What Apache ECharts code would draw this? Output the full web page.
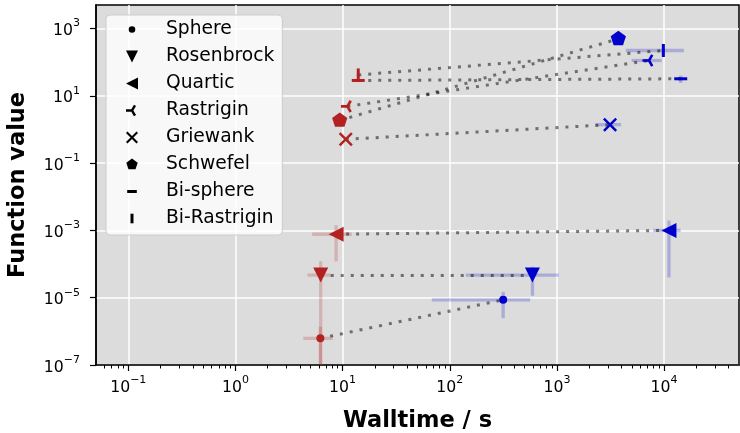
<!DOCTYPE html>
<html>
<head>
<meta charset="utf-8">
<script src="https://cdn.jsdelivr.net/npm/echarts@6/dist/echarts.min.js"></script>
<style>
    html, body { margin: 0; padding: 0; background: #ffffff; }
    #chart { width: 740px; height: 433px; }
</style>
</head>
<body>
<div id="chart"></div>
<script>
// benchmark functions, one marker each
const functionNames = ["Sphere", "Rosenbrock", "Quartic", "Rastrigin", "Griewank", "Schwefel", "Bi-sphere", "Bi-Rastrigin"];

// red points (fast run)
const redTime = [6.2, 6.25, 8.7, 11.1, 10.7, 9.4, 14.0, 14.0];
const redValue = [6.2e-7, 4.7e-5, 7.7e-4, 4.85, 0.51, 1.86, 28.6, 41.7];
const redTimeErr = [1.9, 1.55, 3.5, 0.4, 0.4, 0.5, 0.5, 0.5];
const redValueErr = [7.5e-7, 7.5e-5, 6.5e-4, 0.3, 0.03, 0.1, 1.5, 2];

// blue points (slow run)
const blueTime = [315, 591, 11100, 7230, 3130, 3740, 14290, 9840];
const blueValue = [8.66e-6, 4.69e-5, 1.0e-3, 112, 1.39, 494, 32.1, 222];
const blueTimeErr = [247, 450, 3170, 2250, 840, 300, 800, 5450];
const blueValueErr = [6.2e-6, 3.55e-5, 9.6e-4, 10, 0.1, 30, 8, 60];

// axis ticks
const xMajorTicks = [0.1, 1, 10, 100, 1000, 10000];
const yMajorTicks = [1e-7, 1e-5, 1e-3, 1e-1, 10, 1000];

const RED = "#b22222";
const BLUE = "#0000cd";
const RED_ERR = "rgba(178, 34, 34, 0.22)";
const BLUE_ERR = "rgba(0, 0, 205, 0.22)";
const FONT = "DejaVu Sans";

// marker shapes (matplotlib-like), all centred on (0,0)
const DOWN_TRI = "path://M-10,-10 L10,-10 L0,10 Z";
const LEFT_TRI = "path://M-10,0 L10,-10 L10,10 Z";
const TRI_LEFT = "path://M-10,-10 M10,10 M-10,-2 L-1.155,-2 L3.268,-9.66 L6.732,-7.66 L2.31,0 L6.732,7.66 L3.268,9.66 L-1.155,2 L-10,2 Z";
const CROSS = "path://M-8.586,-11.414 L11.414,8.586 L8.586,11.414 L-11.414,-8.586 Z M-11.414,8.586 L8.586,-11.414 L11.414,-8.586 L-8.586,11.414 Z";
const PENTAGON = "path://M-10,-10 M10,10 M0,-10 L9.51,-3.09 L5.88,8.09 L-5.88,8.09 L-9.51,-3.09 Z";
const DOT_ICON = "path://M-10,-10 M10,10 M-5.5,0 A5.5,5.5 0 1,1 5.5,0 A5.5,5.5 0 1,1 -5.5,0 Z";
const HBAR_ICON = "path://M-10,-10 M10,10 M-8,-2.5 L8,-2.5 L8,2.5 L-8,2.5 Z";
const VBAR_ICON = "path://M-10,-10 M10,10 M-2.5,-8 L2.5,-8 L2.5,8 L-2.5,8 Z";

const markerSymbols = ["circle", DOWN_TRI, LEFT_TRI, TRI_LEFT, CROSS, PENTAGON, "rect", "rect"];
const markerSizes = [8, 15, 15, 13, 14, 16, [13, 3], [3, 13]];
const legendIcons = [DOT_ICON, DOWN_TRI, LEFT_TRI, TRI_LEFT, CROSS, PENTAGON, HBAR_ICON, VBAR_ICON];

const minorTicks = [];
for (let e = -2; e <= 4; e++) {
    for (let m = 2; m <= 9; m++) {
        const v = m * Math.pow(10, e);
        if (v > 0.05 && v < 50000) minorTicks.push(v);
    }
}

function powerLabel(value) {
    const exp = Math.round(Math.log10(value));
    return "{b|10}{s|" + String(exp).replace("-", "\u2212") + "}";
}

const labelRich = {
    b: { fontFamily: FONT, fontSize: 15.7, color: "#000", lineHeight: 21, verticalAlign: "bottom" },
    s: { fontFamily: FONT, fontSize: 11, color: "#000", lineHeight: 12, verticalAlign: "top" },
};

// error bars: [x, y, xerr, yerr, colour index]
const errorData = [];
functionNames.forEach((name, i) => {
    errorData.push([redTime[i], redValue[i], redTimeErr[i], redValueErr[i], 0]);
    errorData.push([blueTime[i], blueValue[i], blueTimeErr[i], blueValueErr[i], 1]);
});

function renderErrorBar(params, api) {
    const x = api.value(0);
    const y = api.value(1);
    const dx = api.value(2);
    const dy = api.value(3);
    const style = {
        stroke: api.value(4) === 0 ? RED_ERR : BLUE_ERR,
        lineWidth: 3.3,
        fill: null,
    };
    const left = api.coord([Math.max(x - dx, 1e-9), y]);
    const right = api.coord([x + dx, y]);
    const top = api.coord([x, y + dy]);
    const bottom = api.coord([x, Math.max(y - dy, 1e-15)]);
    return {
        type: "group",
        children: [
            { type: "line", shape: { x1: left[0], y1: left[1], x2: right[0], y2: right[1] }, style },
            { type: "line", shape: { x1: top[0], y1: top[1], x2: bottom[0], y2: bottom[1] }, style },
        ],
    };
}

const series = [
    {
        type: "custom",
        name: "errors",
        renderItem: renderErrorBar,
        data: errorData,
        encode: { x: 0, y: 1 },
        clip: true,
        silent: true,
        z: 2,
    },
    {
        type: "lines",
        name: "links",
        coordinateSystem: "cartesian2d",
        data: functionNames.map((name, i) => ({
            coords: [[redTime[i], redValue[i]], [blueTime[i], blueValue[i]]],
        })),
        lineStyle: { color: "rgba(0,0,0,0.5)", width: 3, type: [3, 7], cap: "butt", opacity: 1 },
        silent: true,
        z: 3,
    },
];

functionNames.forEach((name, i) => {
    series.push({
        type: "scatter",
        name,
        symbol: markerSymbols[i],
        symbolSize: markerSizes[i],
        itemStyle: { color: "#000", opacity: 1 },
        data: [
            { value: [redTime[i], redValue[i]], itemStyle: { color: RED } },
            { value: [blueTime[i], blueValue[i]], itemStyle: { color: BLUE } },
        ],
        z: 4,
    });
});

const chart = echarts.init(document.getElementById("chart"), null, { renderer: "canvas" });

chart.setOption({
    animation: false,
    backgroundColor: "#ffffff",
    grid: {
        left: 96,
        right: 1,
        top: 5,
        bottom: 68,
        outerBoundsMode: "none",
        containLabel: false,
        show: true,
        backgroundColor: "#dcdcdc",
        borderColor: "#000",
        borderWidth: 1.5,
    },
    legend: {
        orient: "vertical",
        left: 106,
        top: 15,
        data: functionNames.map((name, i) => ({ name, icon: legendIcons[i] })),
        itemWidth: 12,
        itemHeight: 12,
        itemGap: 8,
        padding: [5, 8, 7, 20],
        backgroundColor: "rgba(255,255,255,0.8)",
        borderColor: "#cccccc",
        borderWidth: 1,
        borderRadius: 4,
        selectedMode: false,
        textStyle: { fontFamily: FONT, fontSize: 18.7, color: "#000", lineHeight: 19, padding: [0, 0, 0, 23] },
    },
    xAxis: [
        {
            type: "log",
            logBase: 10,
            min: 0.05,
            max: 50000,
            name: "Walltime / s",
            nameLocation: "middle",
            nameGap: 45,
            nameTextStyle: { fontFamily: FONT, fontSize: 22.5, fontWeight: "bold", color: "#000" },
            axisLine: { show: true, lineStyle: { color: "#000", width: 1.5 } },
            axisTick: { show: true, length: 6, customValues: xMajorTicks, lineStyle: { color: "#000", width: 1.2 } },
            axisLabel: { show: true, margin: 10, customValues: xMajorTicks, formatter: powerLabel, rich: labelRich },
            splitLine: { show: true, lineStyle: { color: "#ffffff", width: 1.5 } },
        },
        {
            type: "log",
            logBase: 10,
            min: 0.05,
            max: 50000,
            position: "bottom",
            axisLine: { show: false },
            axisTick: { show: true, length: 3.5, customValues: minorTicks, lineStyle: { color: "#000", width: 1 } },
            axisLabel: { show: false },
            splitLine: { show: false },
        },
    ],
    yAxis: {
        type: "log",
        logBase: 10,
        min: 1e-7,
        max: 5000,
        name: "Function value",
        nameLocation: "middle",
        nameGap: 66,
        nameRotate: 90,
        nameTextStyle: { fontFamily: FONT, fontSize: 22.5, fontWeight: "bold", color: "#000" },
        axisLine: { show: true, lineStyle: { color: "#000", width: 1.5 } },
        axisTick: { show: true, length: 6, customValues: yMajorTicks, lineStyle: { color: "#000", width: 1.2 } },
        axisLabel: { show: true, margin: 16, customValues: yMajorTicks, formatter: powerLabel, rich: labelRich },
        splitLine: { show: true, lineStyle: { color: "#ffffff", width: 1.5 } },
    },
    series,
});
</script>
</body>
</html>
